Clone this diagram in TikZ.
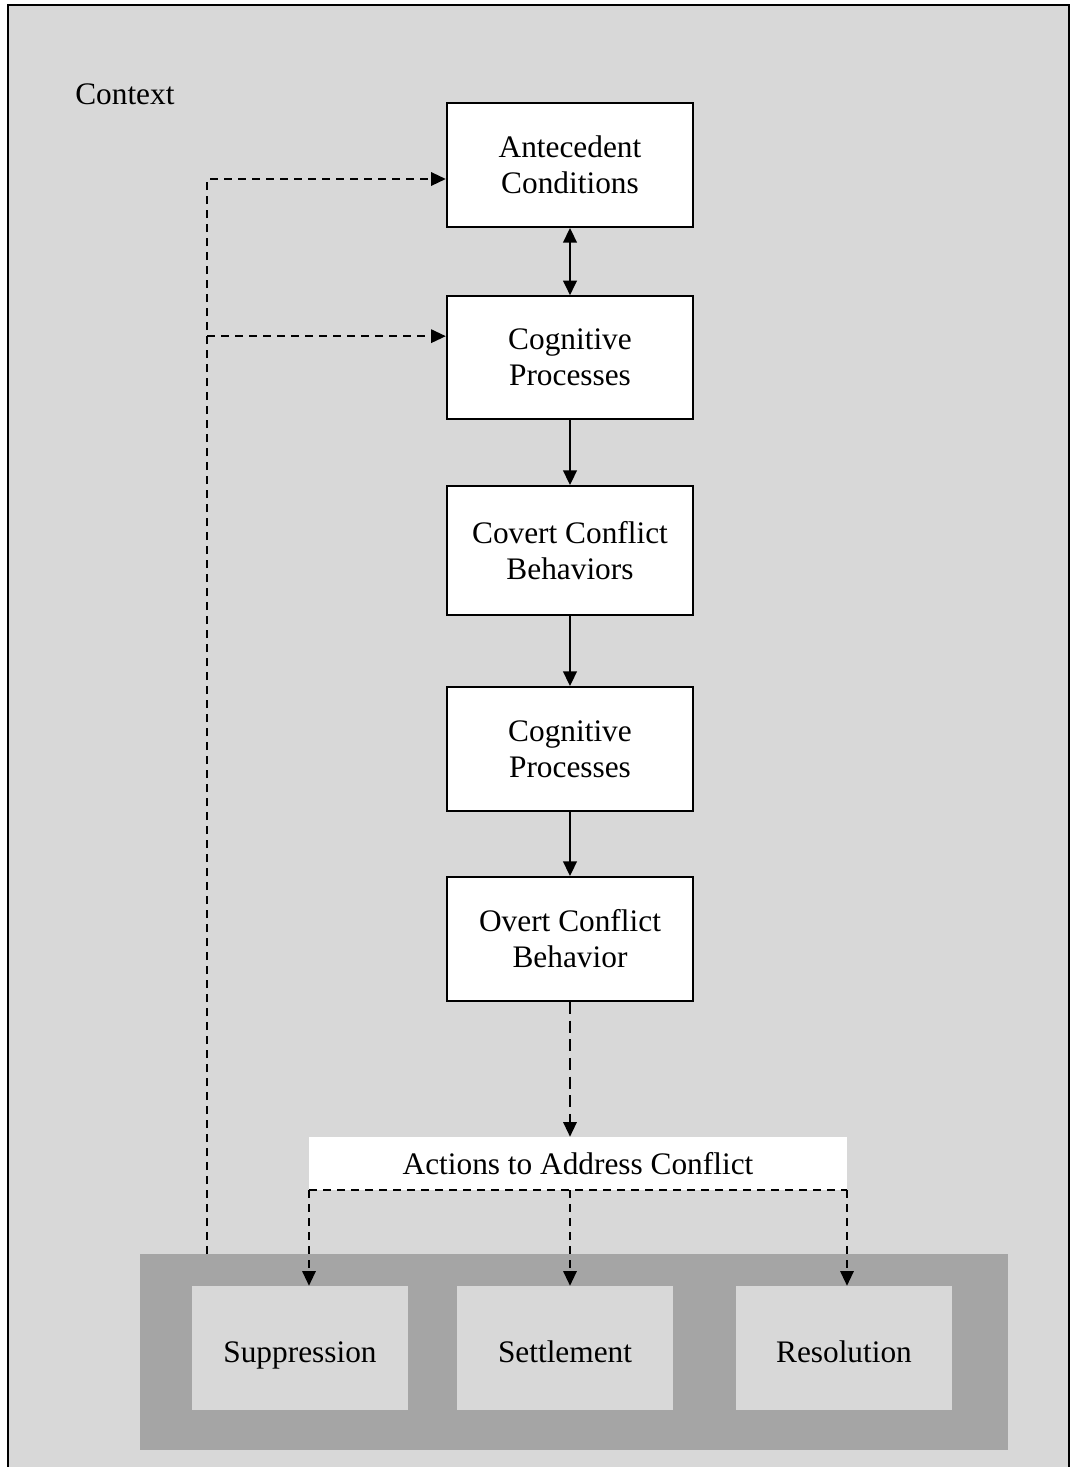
\documentclass[tikz,border=0pt]{standalone}
\usepackage{fontspec}
\setmainfont{Liberation Serif}
\usetikzlibrary{arrows.meta}
\definecolor{ctxgray}{HTML}{D8D8D8}
\definecolor{darkgray}{HTML}{A5A5A5}
\newcommand{\diagfont}{\fontsize{23.5}{27}\selectfont}
\tikzset{
  mainbox/.style={draw=black, line width=1.3pt, fill=white, minimum width=185pt, inner sep=0pt, align=center, font=\diagfont},
  outcome/.style={fill=ctxgray, minimum width=162pt, minimum height=93pt, inner sep=0pt, text height=21pt, text depth=0pt, font=\diagfont},
  solidarrow/.style={line width=2pt, -{Triangle[length=11pt,width=10pt]}},
  dualarrow/.style={line width=2pt, {Triangle[length=11pt,width=10pt]}-{Triangle[length=11pt,width=10pt]}},
  dashline/.style={line width=1.5pt, dash pattern=on 6pt off 4.5pt},
  dasharrow/.style={dashline, -{Triangle[length=11pt,width=10pt]}},
  longdash/.style={line width=1.6pt, dash pattern=on 9pt off 5pt, -{Triangle[length=11pt,width=10pt]}},
}
\begin{document}
\begin{tikzpicture}[x=0.75pt,y=-0.75pt]
\useasboundingbox (0,0) rectangle (1074,1467);
% context frame
\fill[ctxgray] (8,5) rectangle (1069,1480);
\draw[line width=1.5pt] (8,1480) -- (8,5) -- (1069,5) -- (1069,1480);
\node[anchor=base west, inner sep=0pt, font=\diagfont] (ctx) at (75,104) {Context};

% main chain
\node[mainbox, minimum height=93pt] (ant) at (570,165) {Antecedent\\Conditions};
\node[mainbox, minimum height=92pt] (cog1) at (570,357.5) {Cognitive\\Processes};
\node[mainbox, minimum height=96.75pt] (cov) at (570,550.5) {Covert Conflict\\Behaviors};
\node[mainbox, minimum height=93pt] (cog2) at (570,749) {Cognitive\\Processes};
\node[mainbox, minimum height=93pt] (ovt) at (570,939) {Overt Conflict\\Behavior};

\draw[dualarrow] (ant.south) -- (cog1.north);
\draw[solidarrow] (cog1.south) -- (cov.north);
\draw[solidarrow] (cov.south) -- (cog2.north);
\draw[solidarrow] (cog2.south) -- (ovt.north);

% actions
\node[fill=white, minimum width=403.5pt, minimum height=39.75pt, inner sep=0pt, font=\diagfont] (act) at (578,1163.5) {Actions to Address Conflict};
\draw[longdash] (ovt.south) -- (ovt.south |- act.north);

% outcomes
\node[fill=darkgray, minimum width=651pt, minimum height=147pt, inner sep=0pt] (dark) at (574,1352) {};
\node[outcome] (sup) at (300,1348) {Suppression};
\node[outcome] (set) at (565,1348) {Settlement};
\node[outcome] (res) at (844,1348) {Resolution};

\coordinate (aw) at (309,1190);
\coordinate (am) at (570,1190);
\coordinate (ae) at (847,1190);
\draw[dashline] (aw) -- (ae);
\draw[dasharrow] (aw) -- (aw |- sup.north);
\draw[dasharrow] (am) -- (am |- set.north);
\draw[dasharrow] (ae) -- (ae |- res.north);

% feedback
\coordinate (fb) at (207,1254);
\coordinate (e1) at ([yshift=-10.5pt]ant.west);
\coordinate (e2) at ([yshift=16pt]cog1.west);
\draw[dasharrow] (fb) |- (e1);
\draw[dasharrow] (fb |- e2) -- (e2);
\end{tikzpicture}
\end{document}
